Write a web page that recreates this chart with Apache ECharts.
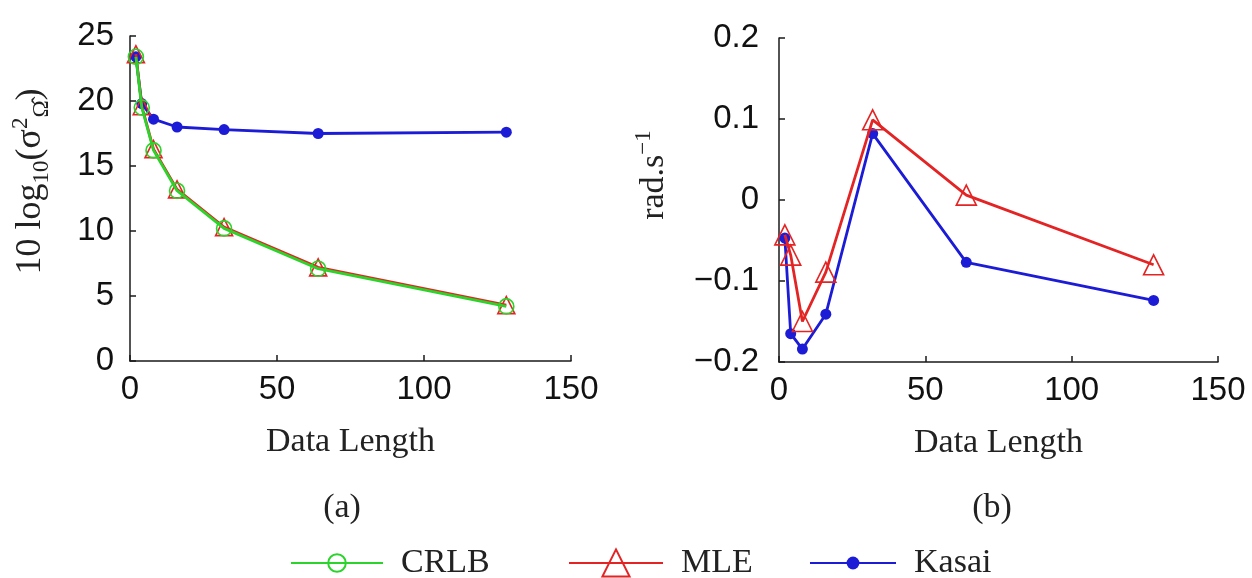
<!DOCTYPE html>
<html>
<head>
<meta charset="utf-8">
<title>Variance and bias vs data length</title>
<script src="https://cdn.jsdelivr.net/npm/echarts@6/dist/echarts.min.js"></script>
<style>
  html, body { margin: 0; padding: 0; background: #fff; }
  #chart { width: 1252px; height: 578px; }
</style>
</head>
<body>
<div id="chart"></div>
<script>
// 数据长度（横轴）
const dataLength = [2, 4, 8, 16, 32, 64, 128];
// (a) 方差 10log10
const crlbVar = [23.4, 19.5, 16.2, 13.1, 10.2, 7.1, 4.2];
const mleVar = [23.6, 19.6, 16.3, 13.2, 10.3, 7.2, 4.3];
const kasaiVar = [23.4, 19.8, 18.6, 18.0, 17.8, 17.5, 17.6];
// (b) 偏差 rad/s
const mleBias = [-0.043, -0.068, -0.150, -0.089, 0.099, 0.006, -0.080];
const kasaiBias = [-0.047, -0.165, -0.184, -0.141, 0.082, -0.077, -0.124];

const GREEN = '#2bd42b';
const RED = '#e42424';
const BLUE = '#1c1cd6';
const AXIS = '#1a1a1a';
const SANS = '"Liberation Sans", Arial, sans-serif';
const SERIF = '"Liberation Serif", "Times New Roman", serif';
const SERIF_SIZE = 34;
const TICK_SIZE = 33;

const pairs = (ys) => dataLength.map((x, i) => [x, ys[i]]);

function xAxis(gridIndex) {
  return {
    gridIndex,
    type: 'value',
    min: 0,
    max: 150,
    interval: 50,
    name: 'Data Length',
    nameLocation: 'middle',
    nameGap: 64,
    nameTextStyle: { fontFamily: SERIF, fontSize: SERIF_SIZE, color: '#222' },
    axisLine: { onZero: false, lineStyle: { color: AXIS, width: 1.5 } },
    axisTick: { inside: true, length: 6, lineStyle: { color: AXIS, width: 1.5 } },
    axisLabel: { margin: 12, fontFamily: SANS, fontSize: TICK_SIZE, color: '#111' },
    splitLine: { show: false },
  };
}

const legendText = { fontFamily: SERIF, fontSize: SERIF_SIZE, color: '#222', padding: [0, 0, 0, 13] };

const option = {
  animation: false,
  backgroundColor: '#fff',
  grid: [
    { left: 130, top: 36, width: 441, height: 325 },
    { left: 779, top: 38, width: 439, height: 324 },
  ],
  xAxis: [xAxis(0), xAxis(1)],
  yAxis: [
    {
      gridIndex: 0,
      type: 'value',
      min: 0,
      max: 25,
      interval: 5,
      name: '{n|10 log}{s|10}{n|(σ}{p|2}{s|Ω̂}{n|)}',
      nameLocation: 'middle',
      nameRotate: 90,
      nameGap: 77,
      nameTextStyle: {
        fontFamily: SERIF,
        color: '#222',
        padding: [0, 0, 0, 34],
        rich: {
          n: { fontFamily: SERIF, fontSize: 36, lineHeight: 44, color: '#222' },
          s: { fontFamily: SERIF, fontSize: 23, lineHeight: 22, verticalAlign: 'bottom', color: '#222' },
          p: { fontFamily: SERIF, fontSize: 23, lineHeight: 22, verticalAlign: 'top', color: '#222' },
        },
      },
      axisLine: { lineStyle: { color: AXIS, width: 1.5 } },
      axisTick: { inside: true, length: 6, lineStyle: { color: AXIS, width: 1.5 } },
      axisLabel: { margin: 16, fontFamily: SANS, fontSize: TICK_SIZE, color: '#111' },
      splitLine: { show: false },
    },
    {
      gridIndex: 1,
      type: 'value',
      min: -0.2,
      max: 0.2,
      interval: 0.1,
      name: '{n|rad.s}{p|−1}',
      nameLocation: 'middle',
      nameRotate: 90,
      nameGap: 103,
      nameTextStyle: {
        fontFamily: SERIF,
        color: '#222',
        padding: [0, 0, 0, 50],
        rich: {
          n: { fontFamily: SERIF, fontSize: SERIF_SIZE, lineHeight: 44, color: '#222' },
          p: { fontFamily: SERIF, fontSize: 23, lineHeight: 22, verticalAlign: 'top', color: '#222' },
        },
      },
      axisLine: { lineStyle: { color: AXIS, width: 1.5 } },
      axisTick: { inside: true, length: 6, lineStyle: { color: AXIS, width: 1.5 } },
      axisLabel: {
        margin: 20,
        fontFamily: SANS,
        fontSize: TICK_SIZE,
        color: '#111',
        formatter: (v) => String(Math.round(v * 10) / 10).replace('-', '−'),
      },
      splitLine: { show: false },
    },
  ],
  legend: [
    {
      data: ['CRLB'], left: 290, top: 546, padding: 0,
      itemWidth: 92, itemHeight: 22, textStyle: legendText,
    },
    {
      data: ['MLE'], left: 568, top: 546, padding: 0,
      itemWidth: 94, itemHeight: 34, textStyle: legendText,
    },
    {
      data: ['Kasai'], left: 809, top: 546, padding: 0,
      itemWidth: 86, itemHeight: 16, textStyle: legendText,
    },
  ],
  graphic: [
    { type: 'text', x: 342, y: 508, style: { text: '(a)', fontFamily: SERIF, fontSize: SERIF_SIZE, fill: '#222', textAlign: 'center', textVerticalAlign: 'middle' } },
    { type: 'text', x: 992, y: 508, style: { text: '(b)', fontFamily: SERIF, fontSize: SERIF_SIZE, fill: '#222', textAlign: 'center', textVerticalAlign: 'middle' } },
  ],
  series: [
    {
      name: 'Kasai', type: 'line', xAxisIndex: 0, yAxisIndex: 0,
      data: pairs(kasaiVar),
      symbol: 'circle', symbolSize: 11,
      lineStyle: { color: BLUE, width: 2.8 },
      itemStyle: { color: BLUE },
      z: 2,
    },
    {
      name: 'MLE', type: 'line', xAxisIndex: 0, yAxisIndex: 0,
      data: pairs(mleVar),
      symbol: 'triangle', symbolSize: 17,
      lineStyle: { color: RED, width: 2.8 },
      itemStyle: { color: 'rgba(0,0,0,0)', borderColor: RED, borderWidth: 1.6 },
      z: 3,
    },
    {
      name: 'CRLB', type: 'line', xAxisIndex: 0, yAxisIndex: 0,
      data: pairs(crlbVar),
      symbol: 'circle', symbolSize: 15,
      lineStyle: { color: GREEN, width: 2.8 },
      itemStyle: { color: 'rgba(0,0,0,0)', borderColor: GREEN, borderWidth: 1.6 },
      z: 4,
    },
    {
      name: 'Kasai', type: 'line', xAxisIndex: 1, yAxisIndex: 1,
      data: pairs(kasaiBias),
      symbol: 'circle', symbolSize: 11,
      lineStyle: { color: BLUE, width: 2.8 },
      itemStyle: { color: BLUE },
      z: 2,
    },
    {
      name: 'MLE', type: 'line', xAxisIndex: 1, yAxisIndex: 1,
      data: pairs(mleBias),
      symbol: 'triangle', symbolSize: 20,
      lineStyle: { color: RED, width: 2.8 },
      itemStyle: { color: 'rgba(0,0,0,0)', borderColor: RED, borderWidth: 1.6 },
      z: 3,
    },
  ],
};

const chart = echarts.init(document.getElementById('chart'), null, { renderer: 'canvas' });
chart.setOption(option);
window.addEventListener('resize', () => chart.resize());
</script>
</body>
</html>
